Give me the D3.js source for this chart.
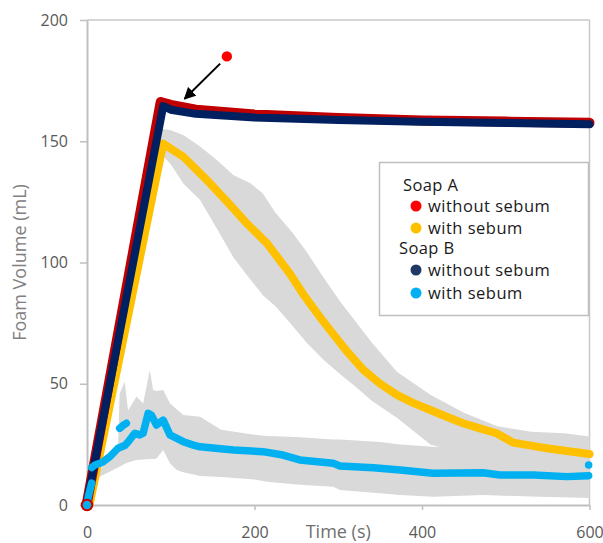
<!DOCTYPE html>
<html>
<head>
<meta charset="utf-8">
<script src="https://cdn.jsdelivr.net/npm/d3@7"></script>
<style>
  html, body { margin: 0; padding: 0; background: #fff; }
  svg { display: block; font-family: "Open Sans", "Noto Sans", sans-serif; }
</style>
</head>
<body>
<svg id="chart" width="603" height="543"></svg>
<script>
// ---------- data ----------
const xTicks = [0, 200, 400, 600];
const yTicks = [0, 50, 100, 150, 200];

// Soap A without sebum (red)
const soapA_noSebum_t = [0, 88, 100, 130, 200, 300, 400, 500, 600];
const soapA_noSebum_v = [1, 166.2, 165, 163, 161, 159.6, 158.6, 158.1, 157.6];

// Soap B without sebum (navy)
const soapB_noSebum_t = [0, 91, 100, 130, 200, 300, 400, 500, 600];
const soapB_noSebum_v = [1, 164.5, 163, 161.3, 159.8, 158.8, 158, 157.5, 157];

// Soap A with sebum (yellow)
const soapA_sebum_t = [3, 91, 100, 115, 130, 147, 171, 191, 215, 242, 260, 278, 290, 310, 330, 350, 370, 390, 410, 430, 449, 470, 489, 509, 530, 549, 575, 600];
const soapA_sebum_v = [0, 149, 147, 143.6, 138.5, 132.6, 123.7, 116, 107.9, 95.5, 86, 77.6, 72.2, 63.5, 55.7, 50, 45.4, 42, 39.2, 36.3, 33.7, 31.5, 29.6, 25.7, 24.5, 23.4, 22.2, 21];

// band (± spread) around Soap A with sebum
const bandA_t     = [88, 100, 115, 135, 155, 175, 195, 210, 225, 245, 262, 282, 302, 320, 340, 370, 410, 450, 490, 530, 570, 600];
const bandA_upper = [155.3, 154.5, 152.6, 147.8, 142.3, 136, 132.7, 128.5, 120.5, 112.5, 104.5, 94, 84, 76, 67, 55, 45.5, 38, 32.5, 30.2, 29.6, 28.2];
const bandA_lower = [145, 140.5, 132.6, 125.8, 114, 102, 93, 86.5, 82, 74, 67, 60, 54, 49, 43, 36, 25, 21, 19, 17.5, 16.5, 16];

// Soap B with sebum (light blue); null = gap between dot runs
const soapB_sebum_t = [0, 1.5, 5.6, null, 5.6, 9.5, 15.5, 19.5, 27.5, 37, 45, 49, 57, 63, 67, 73, 77, 83, 91, 99, 115, 127, 135, 175, 210, 234, 254, 294, 302, 342, 374, 413, 473, 493, 533, 573, 599, null, 39, 43, 47];
const soapB_sebum_v = [0, 3.4, 9, null, 15.5, 16.5, 17.2, 17.9, 20, 23.4, 24.5, 26, 29.6, 28.9, 29.6, 37.8, 37, 33, 35, 28.9, 26.1, 24.7, 24, 22.7, 22, 20.6, 18.6, 17.2, 16.1, 15.4, 14.4, 13.1, 13.3, 12.4, 12.4, 11.7, 12.1, null, 31.6, 32.8, 33.7];
const soapB_sebum_extra = [{t: 599, v: 16.5}];

// band (± spread) around Soap B with sebum
const bandB_t     = [0, 15, 37, 39, 45, 49, 59, 67, 75, 79, 83, 91, 99, 107, 115, 135, 160, 200, 215, 250, 294, 302, 350, 374, 413, 473, 530, 600];
const bandB_upper = [0, 14, 24, 46, 50.8, 39, 44.7, 41.9, 55.7, 47.4, 47, 47.4, 42, 39.5, 37.1, 36.4, 31, 29, 28.5, 28, 27, 27, 26, 25, 24, 23, 22, 21];
const bandB_lower = [0, 11.7, 15.5, 15.8, 17, 17.5, 18.6, 18.8, 19, 19, 19.2, 22.7, 17.2, 14.4, 13.5, 12, 11.5, 10.5, 9.6, 8.5, 7.5, 6.2, 4.8, 4.1, 3.4, 4.1, 3.5, 2.9];

// annotation: highlighted point + arrow toward the peak
const annotationPoint = {t: 167, v: 185};
const arrowFrom = {t: 159, v: 182};
const arrowTo = {t: 116.5, v: 167.5};

const legendGroups = [
  {title: "Soap A", items: [{label: "without sebum", color: "#ff0000"}, {label: "with sebum", color: "#ffc000"}]},
  {title: "Soap B", items: [{label: "without sebum", color: "#1f3864"}, {label: "with sebum", color: "#00b0f0"}]}
];

// ---------- drawing ----------
const svg = d3.select("#chart");
const x = d3.scaleLinear().domain([0, 600]).range([87, 589.5]);
const y = d3.scaleLinear().domain([0, 200]).range([505, 20]);

const zip = (ts, vs) => ts.map((t, i) => ({t, v: vs[i]}));
const zipBand = (ts, lo, hi) => ts.map((t, i) => ({t, lo: lo[i], hi: hi[i]}));

// frame (top / right)
svg.append("line").attr("x1", x(0)).attr("x2", x(600)).attr("y1", y(200)).attr("y2", y(200))
  .attr("stroke", "#c8c8c8").attr("stroke-width", 1.5);
svg.append("line").attr("x1", x(600)).attr("x2", x(600)).attr("y1", y(200)).attr("y2", y(0))
  .attr("stroke", "#c8c8c8").attr("stroke-width", 1.5);

// bands
const area = d3.area().x(d => x(d.t)).y0(d => y(d.lo)).y1(d => y(d.hi)).curve(d3.curveLinear);
svg.append("path").datum(zipBand(bandA_t, bandA_lower, bandA_upper)).attr("d", area).attr("fill", "#d9d9d9");
svg.append("path").datum(zipBand(bandB_t, bandB_lower, bandB_upper)).attr("d", area).attr("fill", "#d9d9d9");

// axes
const yAxis = svg.append("g").attr("transform", `translate(${x(0)},0)`)
  .call(d3.axisLeft(y).tickValues(yTicks).tickSize(7).tickPadding(12).tickSizeOuter(0));
const xAxis = svg.append("g").attr("transform", `translate(0,${y(0)})`)
  .call(d3.axisBottom(x).tickValues(xTicks).tickSize(5).tickPadding(17).tickSizeOuter(0));
[yAxis, xAxis].forEach(g => {
  g.select(".domain").attr("stroke", "#bfbfbf").attr("stroke-width", 2);
  g.selectAll(".tick line").attr("stroke", "#bfbfbf").attr("stroke-width", 1.5);
  g.selectAll(".tick text").attr("fill", "#595959").style("font-size", "16px")
    .style("font-family", "'Open Sans', sans-serif");
});

// lines
const line = d3.line().defined(d => d.t !== null && d.v !== null).x(d => x(d.t)).y(d => y(d.v));
function drawLine(data, color, width) {
  svg.append("path").datum(data).attr("d", line).attr("fill", "none")
    .attr("stroke", color).attr("stroke-width", width)
    .attr("stroke-linejoin", "round").attr("stroke-linecap", "round");
}
drawLine(zip(soapA_sebum_t, soapA_sebum_v), "#ffc000", 8);
drawLine(zip(soapA_noSebum_t, soapA_noSebum_v), "#c00000", 10);
drawLine(zip(soapB_noSebum_t, soapB_noSebum_v), "#002060", 8);
drawLine(zip(soapB_sebum_t, soapB_sebum_v), "#00b0f0", 7.5);

// origin markers
svg.append("circle").attr("cx", x(0)).attr("cy", y(0)).attr("r", 5.5)
  .attr("fill", "#ff0000").attr("stroke", "#c00000").attr("stroke-width", 1.5);
svg.append("circle").attr("cx", x(0)).attr("cy", y(0)).attr("r", 4.2).attr("fill", "#00b0f0");
soapB_sebum_extra.forEach(d => {
  svg.append("circle").attr("cx", x(d.t)).attr("cy", y(d.v)).attr("r", 3.8).attr("fill", "#00b0f0");
});

// annotation
svg.append("circle").attr("cx", x(annotationPoint.t)).attr("cy", y(annotationPoint.v)).attr("r", 5.2).attr("fill", "#ff0000");
svg.append("defs").append("marker").attr("id", "ah").attr("viewBox", "0 0 10 10")
  .attr("refX", 9).attr("refY", 5).attr("markerWidth", 6).attr("markerHeight", 6)
  .attr("markerUnits", "strokeWidth").attr("orient", "auto")
  .append("path").attr("d", "M0,0 L10,5 L0,10 z").attr("fill", "#000");
svg.append("line").attr("x1", x(arrowFrom.t)).attr("y1", y(arrowFrom.v))
  .attr("x2", x(arrowTo.t)).attr("y2", y(arrowTo.v))
  .attr("stroke", "#000").attr("stroke-width", 2).attr("marker-end", "url(#ah)");

// axis titles
svg.append("text").attr("x", (x(0) + x(600)) / 2).attr("y", 538).attr("text-anchor", "middle")
  .attr("fill", "#6f6f6f").style("font-size", "18px").text("Time (s)");
svg.append("text").attr("transform", `translate(26,${(y(0) + y(200)) / 2}) rotate(-90)`)
  .attr("text-anchor", "middle").attr("fill", "#808080").style("font-size", "18px").text("Foam Volume (mL)");

// legend
const lg = svg.append("g");
lg.append("rect").attr("x", 379.5).attr("y", 162.5).attr("width", 209).attr("height", 153)
  .attr("fill", "#fff").attr("stroke", "#bfbfbf").attr("stroke-width", 1.5);
const titleX = [403, 399];
const titleY = [191, 254];
const itemY = [[206, 228], [270, 293]];
legendGroups.forEach((g, gi) => {
  lg.append("text").attr("x", titleX[gi]).attr("y", titleY[gi]).attr("fill", "#1a1a1a")
    .style("font-size", "16.5px").style("letter-spacing", "0.4px").text(g.title);
  g.items.forEach((it, ii) => {
    const cy = itemY[gi][ii];
    lg.append("circle").attr("cx", 416).attr("cy", cy).attr("r", 5.5).attr("fill", it.color);
    lg.append("text").attr("x", 428).attr("y", cy + 6).attr("fill", "#1a1a1a")
      .style("font-size", "16.5px").style("letter-spacing", "0.5px").text(it.label);
  });
});
</script>
</body>
</html>
